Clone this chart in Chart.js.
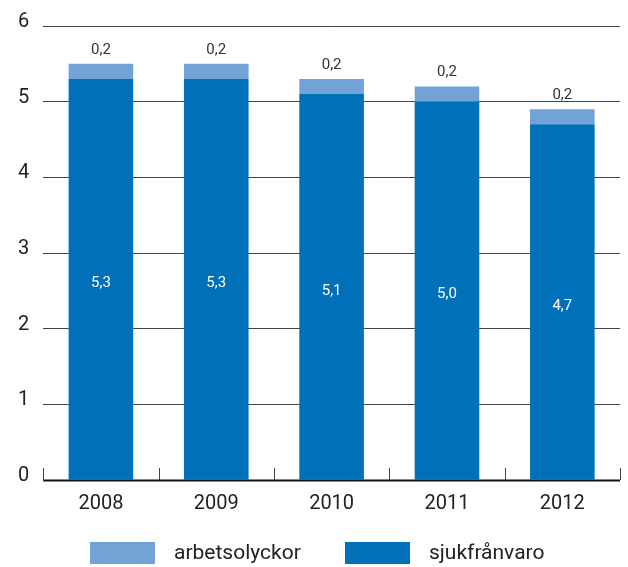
<!DOCTYPE html>
<html>
<head>
<meta charset="utf-8">
<script src="https://cdn.jsdelivr.net/npm/chart.js@4/dist/chart.umd.min.js"></script>
<style>
  html, body { margin: 0; padding: 0; background: #fff; }
  #wrap { width: 628px; height: 567px; }
</style>
</head>
<body>
<div id="wrap"><canvas id="graf"></canvas></div>
<script>
const ar = ["2008", "2009", "2010", "2011", "2012"];
const sjukfranvaro = [5.3, 5.3, 5.1, 5.0, 4.7];
const arbetsolyckor = [0.2, 0.2, 0.2, 0.2, 0.2];
const yTicks = [0, 1, 2, 3, 4, 5, 6];

const MORK = "#0070b9";
const LJUS = "#72a3d7";
const FONT = "'Liberation Sans Narrow', 'Roboto', sans-serif";

const fmt = v => v.toFixed(1).replace(".", ",");

// värdeetiketter: vitt mitt i mörka stapeln, grått ovanför den ljusa
const etiketter = {
  id: "etiketter",
  afterDatasetsDraw(chart) {
    const ctx = chart.ctx;
    ctx.save();
    ctx.textAlign = "center";
    ctx.textBaseline = "middle";
    ctx.font = "15px " + FONT;
    chart.getDatasetMeta(0).data.forEach((bar, i) => {
      ctx.fillStyle = "#fff";
      ctx.fillText(fmt(sjukfranvaro[i]), bar.x, (bar.y + bar.base) / 2 + 4);
    });
    chart.getDatasetMeta(1).data.forEach((bar, i) => {
      ctx.fillStyle = "#333";
      ctx.fillText(fmt(arbetsolyckor[i]), bar.x, bar.y - 14);
    });
    ctx.restore();
  }
};

// små streck mellan kategorierna, uppåt från x-axeln
const axelstreck = {
  id: "axelstreck",
  afterDraw(chart) {
    const { ctx, chartArea: a } = chart;
    const n = ar.length;
    const w = (a.right - a.left) / n;
    ctx.save();
    ctx.strokeStyle = "#444";
    ctx.lineWidth = 1;
    for (let i = 0; i <= n; i++) {
      const x = Math.round(a.left + i * w) + 0.5;
      ctx.beginPath();
      ctx.moveTo(x, a.bottom);
      ctx.lineTo(x, a.bottom - 12);
      ctx.stroke();
    }
    ctx.beginPath();
    ctx.moveTo(a.left, a.bottom + 0.5);
    ctx.lineTo(a.right, a.bottom + 0.5);
    ctx.strokeStyle = "#111";
    ctx.lineWidth = 2;
    ctx.stroke();
    ctx.restore();
  }
};

// förklaring längst ner
const forklaring = {
  id: "forklaring",
  afterDraw(chart) {
    const ctx = chart.ctx;
    const poster = [
      { text: "arbetsolyckor", farg: LJUS, x: 90 },
      { text: "sjukfrånvaro", farg: MORK, x: 345 }
    ];
    const y = 542;
    ctx.save();
    ctx.font = "21px " + FONT;
    ctx.textBaseline = "middle";
    ctx.textAlign = "left";
    poster.forEach(p => {
      ctx.fillStyle = p.farg;
      ctx.fillRect(p.x, y, 65, 22);
      ctx.fillStyle = "#222";
      ctx.fillText(p.text, p.x + 84, y + 12);
    });
    ctx.restore();
  }
};

new Chart(document.getElementById("graf"), {
  type: "bar",
  data: {
    labels: ar,
    datasets: [
      { label: "sjukfrånvaro", data: sjukfranvaro, backgroundColor: MORK, barPercentage: 0.56, categoryPercentage: 1 },
      { label: "arbetsolyckor", data: arbetsolyckor, backgroundColor: LJUS, barPercentage: 0.56, categoryPercentage: 1 }
    ]
  },
  options: {
    responsive: true,
    maintainAspectRatio: false,
    animation: false,
    layout: { padding: { top: 18, right: 8, bottom: 47, left: 4 } },
    plugins: { legend: { display: false }, tooltip: { enabled: false } },
    scales: {
      x: {
        stacked: true,
        grid: { display: false },
        border: { display: false },
        ticks: { color: "#222", font: { family: FONT, size: 20 }, padding: 4 }
      },
      y: {
        stacked: true,
        min: yTicks[0],
        max: yTicks[yTicks.length - 1],
        afterBuildTicks: s => { s.ticks = yTicks.map(v => ({ value: v })); },
        grid: {
          color: c => (c.tick.value === 0 ? "rgba(0,0,0,0)" : "#444"),
          drawTicks: false
        },
        border: { display: false },
        ticks: { color: "#222", font: { family: FONT, size: 20 }, padding: 14, labelOffset: -4 }
      }
    }
  },
  plugins: [etiketter, axelstreck, forklaring]
});
</script>
</body>
</html>
